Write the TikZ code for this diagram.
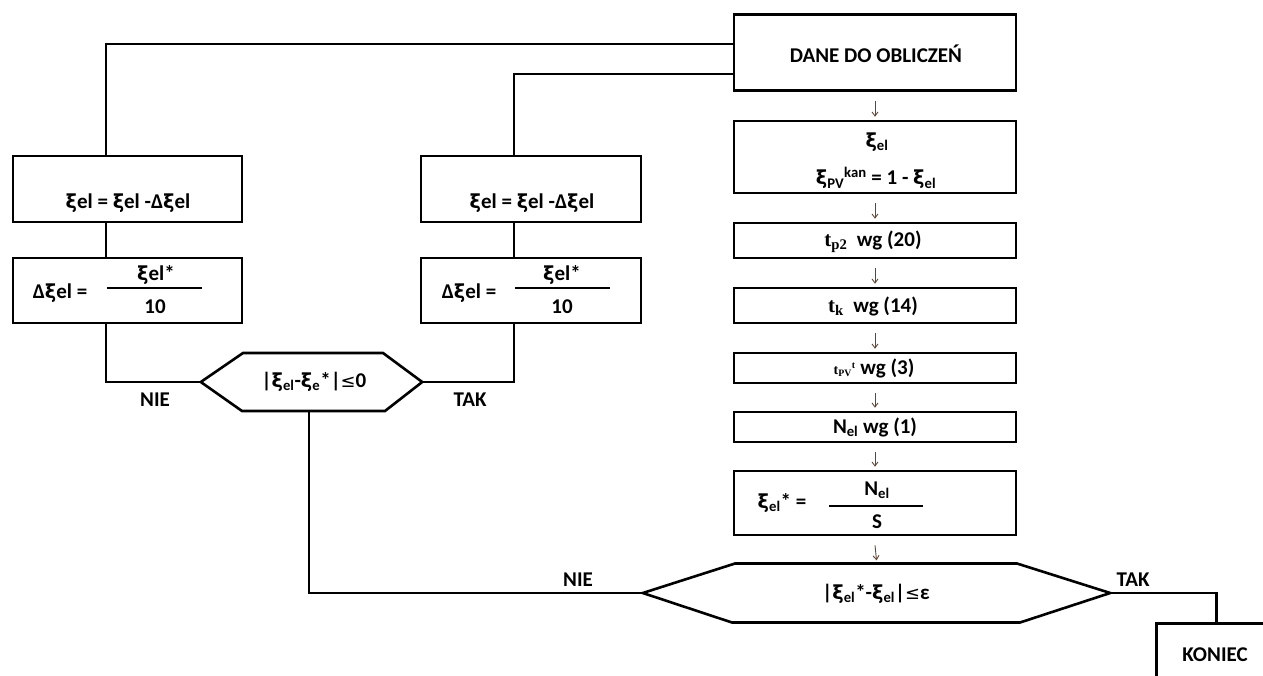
\documentclass[tikz,border=0pt]{standalone}
\usepackage{fontspec}
\setmainfont{Carlito}
\newfontfamily\serifA{Liberation Serif}
\newfontfamily\grk{DejaVu Sans}
\usetikzlibrary{arrows.meta,positioning}
\definecolor{arrowc}{RGB}{95,70,55}
\newcommand{\sbs}[1]{\textsubscript{#1}}
\newcommand{\sps}[1]{\textsuperscript{#1}}
\newcommand{\X}{{\grk\scalebox{0.92}{ξ}}}
\newcommand{\LE}{{\grk\mdseries\scalebox{0.85}{≤}}}
\tikzset{
  box/.style={draw, line width=2.6pt, inner sep=0pt, minimum width=#1},
  box/.default=282pt,
  txt/.style={inner sep=0pt, font=\fontsize{21}{23}\selectfont\bfseries},
  conn/.style={line width=2.6pt},
  arr/.style={draw=arrowc, line width=0.9pt, -{Straight Barb[length=4pt,width=6pt]}},
  fracline/.style={line width=1.3pt},
  hex/.style={line width=2.6pt, line join=miter},
  ghost/.style={inner sep=0pt, minimum width=#1},
}
\begin{document}
\begin{tikzpicture}[x=1pt,y=-1pt]
\path[use as bounding box, clip] (0,0) rectangle (1263,675);
\fill[white] (0,0) rectangle (1263,675);

% right column
\node[box, minimum height=76pt] (dane) at (875,52.5) {};
\node[txt] (danet) at (876,54) {DANE DO OBLICZEŃ};

\node[box, minimum height=72pt] (xi) at (875,157) {};
\node[txt] (xit1) at (877,142) {\X\sbs{el}};
\node[txt] (xit2) at (876,178) {\X\sbs{PV}\sps{kan} = 1 - \X\sbs{el}};

\node[box, minimum height=35pt] (tp) at (875,240.5) {};
\node[txt] (tpt) at (873,242) {{\serifA t\sbs{p2}}\ \ wg (20)};

\node[box, minimum height=35pt] (tk) at (875,305.5) {};
\node[txt] (tkt) at (873,306) {{\serifA t\sbs{k}}\ \ wg (14)};

\node[box, minimum height=30pt] (tpv) at (875,368) {};
\node[txt] (tpvt) at (874,368) {{\serifA\fontsize{14}{15}\selectfont t\sbs{PV}\sps{t}}\ wg (3)};

\node[box, minimum height=30pt] (nel) at (875,427) {};
\node[txt] (nelt) at (875,427) {N\sbs{el} wg (1)};

\node[box, minimum height=64pt] (xs) at (875,503) {};
\node[txt] (xsl) at (782,503) {\X\sbs{el}* =};
\node[txt] (xsn) at (877,490) {N\sbs{el}};
\node[txt] (xsd) at (877,522) {S};
\draw[fracline] (829,506) -- (923,506);

% big hexagon
\node[ghost=467pt, minimum height=59pt] (bh) at (876.5,593) {};
\draw[hex] (bh.west) -- (735,563.5) -- (1017,563.5) -- (bh.east) -- (1020,622.5) -- (732,622.5) -- cycle;
\node[txt] (bht) at (876,594) {|\X\sbs{el}*-\X\sbs{el}|\LE ε};

% arrows in column
\draw[arr] ([yshift=-9pt]dane.south) -- ([yshift=3pt]xi.north);
\draw[arr] ([yshift=-9pt]xi.south) -- ([yshift=3pt]tp.north);
\draw[arr] ([yshift=-9pt]tp.south) -- ([yshift=3pt]tk.north);
\draw[arr] ([yshift=-9pt]tk.south) -- ([yshift=3pt]tpv.north);
\draw[arr] ([yshift=-9pt]tpv.south) -- ([yshift=3pt]nel.north);
\draw[arr] ([yshift=-9pt]nel.south) -- ([yshift=3pt]xs.north);
\draw[arr] ([yshift=-9pt]xs.south) -- ([yshift=3pt]bh.north);

% left boxes
\node[box=229pt, minimum height=66pt] (l1) at (127.5,189) {};
\node[txt] (l1t) at (128,203) {\X el = \X el -Δ\X el};
\node[box=229pt, minimum height=65pt] (l2) at (127.5,290.5) {};
\node[txt] (l2l) at (60,293) {Δ\X el =};
\node[txt] (l2n) at (156,275) {\X el*};
\node[txt] (l2d) at (155,307) {10};
\draw[fracline] (107,288) -- (202,288);

% middle boxes
\node[box=220pt, minimum height=66pt] (m1) at (531,189) {};
\node[txt] (m1t) at (532,203) {\X el = \X el -Δ\X el};
\node[box=220pt, minimum height=65pt] (m2) at (531,290.5) {};
\node[txt] (m2l) at (469,293) {Δ\X el =};
\node[txt] (m2n) at (562,275) {\X el*};
\node[txt] (m2d) at (562,307) {10};
\draw[fracline] (515,288) -- (610,288);

% small hexagon
\node[ghost=221pt, minimum height=58pt] (sh) at (311.5,382) {};
\draw[hex] (sh.west) -- (243,353) -- (383,353) -- (sh.east) -- (385,411) -- (242,411) -- cycle;
\node[txt] (sht) at (314,382) {|\X\sbs{el}-\X\sbs{e}*|\LE 0};

% koniec
\node[box=120pt, minimum height=66pt, anchor=north west] (kon) at (1155,622) {};
\node[txt] (kont) at (1215,655) {KONIEC};

% connector columns
\coordinate (lx) at (106,0);
\coordinate (mx) at (514,0);
\coordinate (bx) at (309,0);

% connectors
\draw[conn] (dane.west |- 0,44) -| (l1.north -| lx);
\draw[conn] (dane.west |- 0,74) -| (m1.north -| mx);
\draw[conn] (l1.south -| lx) -- (l2.north -| lx);
\draw[conn] (m1.south -| mx) -- (m2.north -| mx);
\draw[conn] (l2.south -| lx) |- (sh.west);
\draw[conn] (m2.south -| mx) |- (sh.east);
\draw[conn] (sh.south -| bx) |- (bh.west);
\draw[conn] (bh.east) -| (kon.north);

% labels
\node[txt] (nie1) at (155,400) {NIE};
\node[txt] (tak1) at (470,400) {TAK};
\node[txt] (nie2) at (578,580) {NIE};
\node[txt] (tak2) at (1133,580) {TAK};
\end{tikzpicture}
\end{document}
